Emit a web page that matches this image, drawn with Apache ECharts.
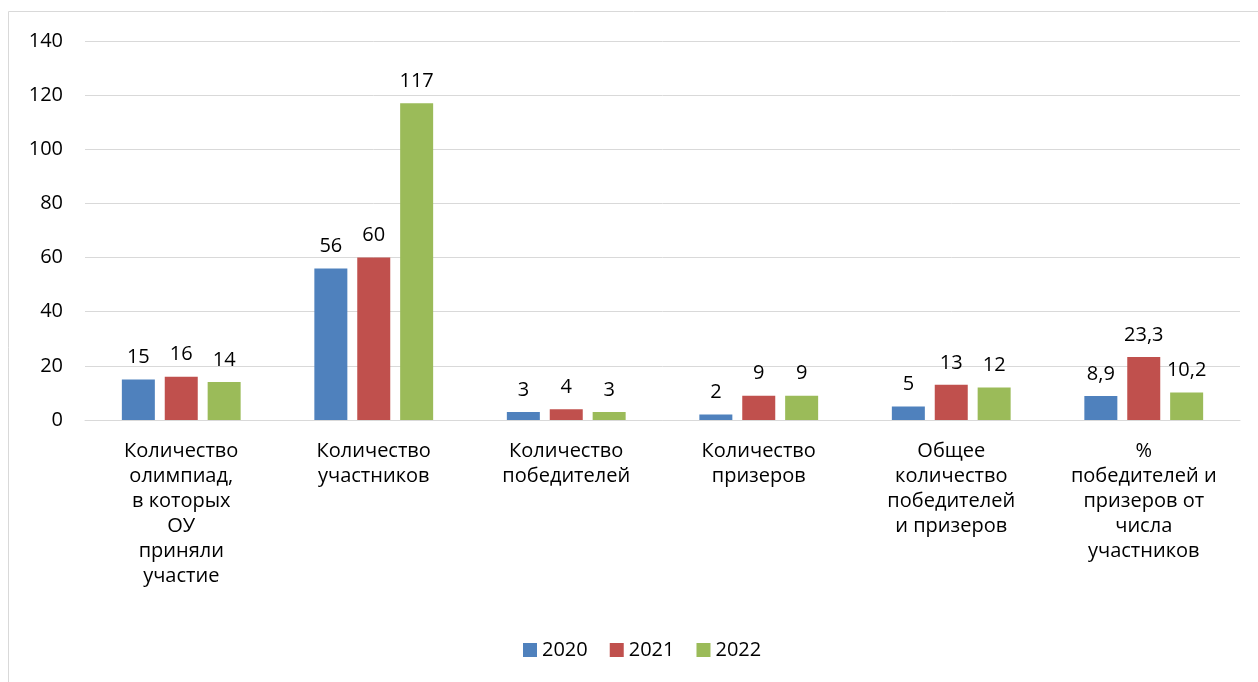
<!DOCTYPE html>
<html><head><meta charset="utf-8">
<script src="https://cdn.jsdelivr.net/npm/echarts@6/dist/echarts.min.js"></script>
<style>html,body{margin:0;padding:0;background:#fff}#c{width:1258px;height:682px}</style>
</head><body><div id="c"></div>
<script>
const categories = [
  "Количество\nолимпиад,\nв которых\nОУ\nприняли\nучастие",
  "Количество\nучастников",
  "Количество\nпобедителей",
  "Количество\nпризеров",
  "Общее\nколичество\nпобедителей\nи призеров",
  "%\nпобедителей и\nпризеров от\nчисла\nучастников"
];
const seriesNames = ["2020", "2021", "2022"];
const values2020 = [15, 56, 3, 2, 5, 8.9];
const values2021 = [16, 60, 4, 9, 13, 23.3];
const values2022 = [14, 117, 3, 9, 12, 10.2];
const yTicks = { min: 0, max: 140, interval: 20 };
const colors = ["#4f81bd", "#c0504d", "#9bbb59"];

const FONT = "'Open Sans', sans-serif";
const FS = 20;
const chart = echarts.init(document.getElementById('c'), null, {renderer: 'canvas'});
const allValues = [values2020, values2021, values2022];
chart.setOption({
  animation: false,
  textStyle: {fontFamily: FONT},
  graphic: [{type: 'rect', shape: {x: 8.5, y: 11.5, width: 1260, height: 680}, style: {fill: 'none', stroke: '#d9d9d9', lineWidth: 1}, silent: true}],
  grid: {left: 85, right: 18, top: 41, bottom: 262},
  legend: {
    bottom: 17, left: 518, itemWidth: 14, itemHeight: 14, itemGap: 22, icon: 'rect',
    textStyle: {fontSize: FS, color: '#000', fontFamily: FONT},
    data: seriesNames
  },
  xAxis: {
    type: 'category', data: categories,
    axisLine: {lineStyle: {color: '#d9d9d9', width: 1}},
    axisTick: {show: false},
    axisLabel: {interval: 0, fontSize: FS, color: '#000', lineHeight: 25, margin: 19, fontFamily: FONT}
  },
  yAxis: {
    type: 'value', min: yTicks.min, max: yTicks.max, interval: yTicks.interval,
    axisLine: {show: false}, axisTick: {show: false},
    splitLine: {lineStyle: {color: '#d9d9d9', width: 1}},
    axisLabel: {fontSize: FS, color: '#000', margin: 22, fontFamily: FONT}
  },
  series: seriesNames.map((n, i) => ({
    name: n, type: 'bar', data: allValues[i], barWidth: 33, barGap: '30%',
    itemStyle: {color: colors[i]},
    label: {show: true, position: 'top', distance: 12, fontSize: FS, color: '#000', fontFamily: FONT,
      formatter: p => String(p.value).replace('.', ',')}
  }))
});
</script></body></html>
